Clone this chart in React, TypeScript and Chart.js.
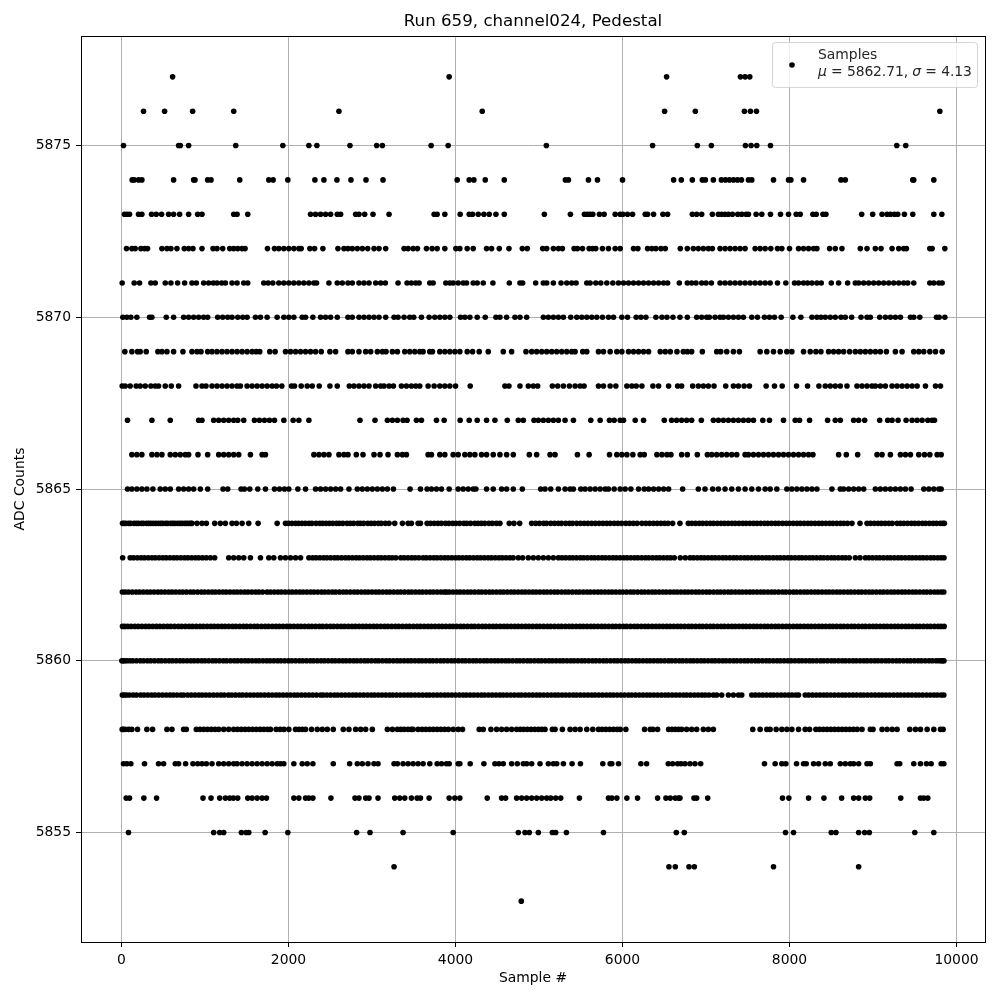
import React, { useEffect, useRef } from "react";
import { Chart, registerables } from "chart.js";

Chart.register(...registerables);

const titleText = "Run 659, channel024, Pedestal";
const xLabel = "Sample #";
const yLabel = "ADC Counts";
const seriesName = "Samples";
const statMean = "5862.71";
const statSigma = "4.13";
const xTicks = [0, 2000, 4000, 6000, 8000, 10000];
const yTicks = [5855, 5860, 5865, 5870, 5875];

const s5853 = [4788];
const s5854 = [3264, 6556, 6632, 6796, 6860, 7808, 8828];
const s5855 = [84, 1104, 1176, 1224, 1436, 1492, 1524, 1720, 1992, 2816, 2976, 3372, 3972, 4752, 4832, 4884, 4992, 5160, 5200, 5328, 5772, 6644, 6740, 7952, 8048, 8500, 8556, 8828, 8900, 8956, 9500, 9728];
const s5856 = [56, 96, 268, 420, 976, 1072, 1176, 1244, 1296, 1340, 1392, 1512, 1564, 1624, 1684, 1736, 2064, 2124, 2204, 2244, 2292, 2508, 2796, 2844, 2924, 2964, 3072, 3272, 3332, 3392, 3472, 3540, 3580, 3684, 3924, 3992, 4052, 4380, 4552, 4600, 4732, 4792, 4852, 4912, 4972, 5032, 5092, 5140, 5200, 5260, 5484, 5832, 5872, 5932, 6052, 6180, 6420, 6520, 6572, 6632, 6672, 6688, 6856, 6888, 7020, 7916, 7992, 8228, 8412, 8624, 8768, 8828, 8908, 8960, 9332, 9568, 9608, 9656];
const s5857 = [24, 64, 112, 276, 444, 504, 644, 684, 768, 856, 912, 964, 1016, 1084, 1164, 1224, 1284, 1344, 1384, 1444, 1504, 1564, 1624, 1684, 1744, 1804, 1864, 1904, 1944, 2064, 2164, 2224, 2292, 2536, 2732, 2824, 2884, 2952, 3024, 3072, 3264, 3304, 3372, 3432, 3492, 3552, 3612, 3692, 3780, 3832, 3892, 3924, 4032, 4052, 4176, 4340, 4472, 4520, 4572, 4672, 4740, 4812, 4852, 4912, 5012, 5112, 5172, 5212, 5292, 5396, 5496, 5764, 5852, 5872, 5952, 6220, 6288, 6548, 6600, 6660, 6700, 6748, 6808, 6868, 6936, 7700, 7828, 7908, 7956, 8084, 8168, 8200, 8288, 8348, 8428, 8488, 8608, 8668, 8728, 8768, 8828, 8928, 8968, 9288, 9320, 9488, 9568, 9640, 9696, 9816, 9848];
const s5858 = [8, 20, 44, 84, 124, 192, 304, 372, 544, 604, 744, 776, 896, 940, 985, 1030, 1075, 1120, 1164, 1224, 1284, 1344, 1390, 1435, 1480, 1525, 1570, 1615, 1660, 1705, 1750, 1784, 1852, 1900, 1945, 2004, 2084, 2125, 2165, 2204, 2276, 2344, 2404, 2464, 2536, 2656, 2724, 2804, 2864, 2924, 3004, 3184, 3244, 3304, 3345, 3385, 3430, 3470, 3492, 3552, 3600, 3645, 3690, 3735, 3780, 3825, 3870, 3915, 3972, 4032, 4084, 4284, 4332, 4424, 4492, 4552, 4612, 4672, 4732, 4775, 4815, 4860, 4905, 4950, 4995, 5035, 5072, 5160, 5192, 5280, 5372, 5432, 5492, 5572, 5644, 5712, 5755, 5800, 5845, 5890, 5935, 5972, 6040, 6264, 6332, 6364, 6420, 6552, 6592, 6632, 6672, 6708, 6768, 6828, 6888, 6968, 7028, 7088, 7560, 7648, 7728, 7768, 7840, 7908, 7968, 8028, 8108, 8188, 8240, 8316, 8360, 8405, 8450, 8495, 8540, 8585, 8630, 8675, 8720, 8765, 8810, 8868, 8968, 9000, 9108, 9168, 9230, 9288, 9440, 9508, 9568, 9648, 9728, 9808, 9840];
const s5859 = [10, 32, 58, 95, 140, 180, 230, 270, 315, 360, 400, 445, 490, 535, 580, 620, 665, 710, 744, 792, 835, 880, 925, 965, 1010, 1055, 1100, 1145, 1190, 1230, 1280, 1320, 1365, 1410, 1450, 1495, 1540, 1585, 1630, 1670, 1715, 1760, 1805, 1850, 1890, 1935, 1980, 2025, 2070, 2110, 2155, 2200, 2245, 2290, 2335, 2384, 2416, 2460, 2505, 2550, 2590, 2635, 2680, 2725, 2770, 2810, 2855, 2900, 2945, 2990, 3030, 3075, 3120, 3165, 3210, 3250, 3295, 3340, 3385, 3430, 3470, 3515, 3560, 3605, 3650, 3690, 3735, 3780, 3825, 3870, 3910, 3955, 4000, 4045, 4090, 4130, 4175, 4220, 4265, 4310, 4350, 4395, 4440, 4485, 4530, 4570, 4615, 4660, 4705, 4750, 4790, 4835, 4880, 4925, 4970, 5010, 5055, 5100, 5145, 5190, 5230, 5275, 5320, 5365, 5410, 5450, 5495, 5540, 5585, 5630, 5670, 5715, 5760, 5805, 5850, 5890, 5935, 5980, 6025, 6070, 6110, 6155, 6200, 6245, 6290, 6330, 6375, 6420, 6465, 6510, 6550, 6595, 6640, 6685, 6730, 6770, 6815, 6860, 6905, 6950, 6990, 7035, 7088, 7128, 7188, 7268, 7328, 7388, 7428, 7548, 7590, 7635, 7680, 7725, 7770, 7810, 7855, 7900, 7945, 7990, 8030, 8075, 8108, 8188, 8230, 8275, 8320, 8365, 8410, 8450, 8495, 8540, 8585, 8630, 8670, 8715, 8760, 8805, 8850, 8890, 8935, 8980, 9025, 9070, 9110, 9155, 9200, 9245, 9290, 9330, 9375, 9420, 9465, 9510, 9550, 9595, 9640, 9685, 9730, 9770, 9815, 9848];
const s5860 = [4, 18, 36, 65, 100, 135, 180, 225, 265, 310, 350, 395, 440, 480, 525, 570, 610, 655, 700, 740, 785, 830, 870, 915, 960, 1000, 1045, 1090, 1130, 1175, 1220, 1260, 1305, 1350, 1390, 1435, 1480, 1520, 1565, 1610, 1650, 1695, 1740, 1780, 1825, 1870, 1910, 1955, 2000, 2040, 2085, 2130, 2170, 2215, 2260, 2300, 2345, 2390, 2430, 2475, 2520, 2560, 2605, 2650, 2690, 2735, 2780, 2820, 2865, 2910, 2950, 2995, 3040, 3080, 3125, 3170, 3210, 3255, 3300, 3340, 3385, 3430, 3470, 3515, 3560, 3600, 3645, 3690, 3730, 3775, 3820, 3860, 3905, 3950, 3990, 4035, 4080, 4120, 4165, 4210, 4250, 4295, 4340, 4380, 4425, 4470, 4510, 4555, 4600, 4640, 4685, 4730, 4770, 4815, 4860, 4900, 4945, 4990, 5030, 5075, 5120, 5160, 5205, 5250, 5290, 5335, 5380, 5420, 5465, 5510, 5550, 5595, 5640, 5680, 5725, 5770, 5810, 5855, 5900, 5940, 5985, 6030, 6070, 6115, 6160, 6200, 6245, 6290, 6330, 6375, 6420, 6460, 6505, 6550, 6590, 6635, 6680, 6720, 6765, 6810, 6850, 6895, 6940, 6980, 7025, 7070, 7110, 7155, 7200, 7240, 7285, 7330, 7370, 7415, 7460, 7500, 7545, 7590, 7630, 7675, 7720, 7760, 7805, 7850, 7890, 7935, 7980, 8020, 8065, 8110, 8150, 8195, 8240, 8280, 8325, 8370, 8410, 8455, 8500, 8540, 8585, 8630, 8670, 8715, 8760, 8800, 8845, 8890, 8930, 8975, 9020, 9060, 9105, 9150, 9190, 9235, 9280, 9320, 9365, 9410, 9450, 9495, 9540, 9580, 9625, 9670, 9710, 9755, 9790, 9820, 9835, 9850];
const s5861 = [12, 40, 75, 115, 160, 200, 245, 290, 330, 375, 420, 460, 505, 550, 590, 635, 680, 720, 765, 810, 850, 895, 940, 980, 1025, 1070, 1110, 1155, 1200, 1240, 1285, 1330, 1370, 1415, 1460, 1500, 1545, 1590, 1630, 1675, 1720, 1760, 1805, 1850, 1890, 1935, 1980, 2020, 2065, 2110, 2150, 2195, 2240, 2280, 2325, 2370, 2410, 2455, 2500, 2540, 2585, 2630, 2670, 2715, 2760, 2800, 2845, 2890, 2930, 2975, 3020, 3060, 3105, 3150, 3190, 3235, 3280, 3320, 3365, 3410, 3450, 3495, 3540, 3580, 3625, 3670, 3710, 3755, 3800, 3840, 3885, 3930, 3970, 4015, 4060, 4100, 4145, 4190, 4230, 4275, 4320, 4360, 4405, 4450, 4490, 4535, 4580, 4620, 4665, 4710, 4750, 4795, 4840, 4880, 4925, 4970, 5010, 5055, 5100, 5140, 5185, 5230, 5270, 5315, 5360, 5400, 5445, 5490, 5530, 5575, 5620, 5660, 5705, 5750, 5790, 5835, 5880, 5920, 5965, 6010, 6050, 6095, 6140, 6180, 6225, 6270, 6310, 6355, 6400, 6440, 6485, 6530, 6570, 6615, 6660, 6700, 6745, 6790, 6830, 6875, 6920, 6960, 7005, 7050, 7090, 7135, 7180, 7220, 7265, 7310, 7350, 7395, 7440, 7480, 7525, 7570, 7610, 7655, 7700, 7740, 7785, 7830, 7870, 7915, 7960, 8000, 8045, 8090, 8130, 8175, 8220, 8260, 8305, 8350, 8390, 8435, 8480, 8520, 8565, 8610, 8650, 8695, 8740, 8780, 8825, 8870, 8910, 8955, 9000, 9040, 9085, 9130, 9170, 9215, 9260, 9300, 9345, 9390, 9430, 9475, 9520, 9560, 9605, 9650, 9690, 9735, 9780, 9815, 9852];
const s5862 = [10, 45, 85, 130, 175, 215, 260, 305, 345, 390, 435, 475, 520, 565, 605, 650, 695, 735, 780, 825, 865, 910, 955, 995, 1040, 1085, 1125, 1170, 1215, 1255, 1300, 1345, 1385, 1430, 1475, 1515, 1560, 1605, 1645, 1690, 1744, 1785, 1830, 1875, 1915, 1960, 2005, 2045, 2090, 2135, 2175, 2220, 2265, 2305, 2350, 2395, 2435, 2480, 2525, 2565, 2610, 2655, 2695, 2740, 2785, 2825, 2870, 2915, 2955, 3000, 3045, 3085, 3130, 3175, 3215, 3260, 3305, 3345, 3390, 3435, 3475, 3520, 3565, 3605, 3650, 3695, 3735, 3780, 3825, 3865, 3892, 3925, 3970, 4015, 4055, 4100, 4145, 4185, 4230, 4275, 4315, 4360, 4405, 4445, 4490, 4535, 4575, 4620, 4665, 4705, 4750, 4795, 4835, 4880, 4925, 4965, 5010, 5055, 5095, 5140, 5185, 5225, 5270, 5315, 5355, 5400, 5445, 5485, 5530, 5575, 5615, 5660, 5705, 5745, 5790, 5835, 5875, 5920, 5965, 6005, 6050, 6095, 6135, 6180, 6225, 6265, 6310, 6355, 6395, 6440, 6485, 6525, 6570, 6615, 6655, 6700, 6745, 6785, 6830, 6875, 6915, 6960, 7005, 7045, 7090, 7135, 7175, 7220, 7265, 7305, 7350, 7395, 7435, 7480, 7525, 7565, 7610, 7655, 7695, 7740, 7785, 7825, 7870, 7915, 7955, 8000, 8045, 8085, 8130, 8175, 8215, 8260, 8305, 8345, 8390, 8435, 8475, 8520, 8565, 8605, 8650, 8695, 8735, 8780, 8825, 8865, 8910, 8955, 8995, 9040, 9085, 9125, 9170, 9215, 9255, 9300, 9345, 9385, 9430, 9475, 9515, 9560, 9605, 9645, 9690, 9735, 9775, 9815, 9848];
const s5863 = [14, 104, 145, 190, 235, 275, 320, 365, 405, 450, 495, 535, 580, 625, 665, 710, 755, 795, 840, 885, 925, 970, 1015, 1064, 1116, 1284, 1344, 1404, 1464, 1544, 1664, 1764, 1824, 1904, 1964, 2024, 2084, 2144, 2244, 2290, 2330, 2375, 2420, 2460, 2505, 2550, 2590, 2635, 2680, 2720, 2765, 2810, 2850, 2895, 2940, 2980, 3025, 3070, 3110, 3155, 3200, 3240, 3285, 3344, 3385, 3430, 3475, 3515, 3560, 3612, 3650, 3695, 3740, 3780, 3825, 3870, 3910, 3955, 4000, 4040, 4085, 4130, 4170, 4215, 4260, 4300, 4345, 4390, 4430, 4475, 4520, 4560, 4605, 4650, 4690, 4752, 4804, 4872, 4932, 4992, 5052, 5112, 5172, 5232, 5275, 5320, 5365, 5405, 5450, 5495, 5535, 5580, 5625, 5665, 5710, 5755, 5795, 5840, 5885, 5925, 5970, 6015, 6055, 6100, 6145, 6185, 6230, 6275, 6315, 6360, 6405, 6445, 6490, 6535, 6575, 6620, 6692, 6752, 6808, 6850, 6895, 6940, 6980, 7025, 7070, 7110, 7155, 7200, 7240, 7285, 7330, 7370, 7415, 7460, 7500, 7545, 7590, 7630, 7675, 7720, 7760, 7805, 7850, 7890, 7935, 7980, 8020, 8065, 8110, 8150, 8195, 8240, 8280, 8325, 8370, 8410, 8455, 8500, 8540, 8585, 8630, 8670, 8715, 8788, 8844, 8908, 8950, 8995, 9040, 9080, 9125, 9170, 9210, 9255, 9300, 9340, 9385, 9430, 9470, 9515, 9560, 9600, 9645, 9690, 9730, 9775, 9815, 9850];
const s5864 = [12, 30, 52, 85, 110, 150, 178, 205, 240, 262, 300, 325, 350, 380, 410, 440, 470, 495, 530, 555, 590, 615, 640, 672, 700, 725, 755, 780, 805, 830, 844, 904, 964, 1016, 1116, 1184, 1244, 1324, 1376, 1444, 1524, 1636, 1864, 1964, 2000, 2040, 2084, 2120, 2160, 2200, 2245, 2280, 2330, 2375, 2410, 2450, 2490, 2530, 2575, 2610, 2650, 2700, 2740, 2780, 2830, 2860, 2900, 2950, 2990, 3030, 3075, 3110, 3160, 3204, 3272, 3364, 3432, 3472, 3552, 3580, 3660, 3700, 3745, 3790, 3830, 3880, 3920, 3965, 4005, 4050, 4100, 4135, 4180, 4230, 4270, 4310, 4350, 4400, 4440, 4490, 4532, 4644, 4700, 4768, 4912, 4960, 5005, 5055, 5090, 5140, 5185, 5230, 5270, 5320, 5365, 5400, 5450, 5495, 5540, 5585, 5630, 5675, 5720, 5765, 5810, 5852, 5900, 5945, 5990, 6040, 6085, 6130, 6175, 6232, 6280, 6325, 6370, 6415, 6460, 6505, 6545, 6600, 6688, 6788, 6830, 6875, 6920, 6960, 7005, 7050, 7090, 7135, 7180, 7220, 7265, 7310, 7350, 7395, 7440, 7480, 7525, 7570, 7610, 7655, 7700, 7740, 7785, 7830, 7870, 7915, 7960, 8000, 8045, 8090, 8130, 8175, 8220, 8260, 8305, 8350, 8390, 8435, 8480, 8520, 8565, 8610, 8650, 8695, 8748, 8844, 8928, 8970, 9015, 9060, 9100, 9145, 9190, 9230, 9288, 9328, 9370, 9415, 9460, 9500, 9545, 9590, 9630, 9675, 9720, 9760, 9805, 9835, 9855];
const s5865 = [72, 124, 184, 244, 304, 376, 464, 524, 584, 684, 744, 804, 864, 944, 1032, 1216, 1272, 1432, 1472, 1536, 1632, 1724, 1832, 1892, 1952, 2004, 2112, 2204, 2324, 2384, 2444, 2504, 2564, 2624, 2724, 2824, 2884, 2944, 3004, 3064, 3124, 3184, 3256, 3456, 3580, 3660, 3712, 3772, 3832, 3924, 4032, 4092, 4152, 4212, 4244, 4372, 4452, 4552, 4612, 4692, 4800, 5020, 5072, 5140, 5232, 5312, 5372, 5412, 5500, 5552, 5612, 5672, 5732, 5792, 5832, 5900, 5972, 6032, 6100, 6192, 6260, 6312, 6372, 6432, 6492, 6552, 6720, 6908, 6988, 7080, 7148, 7228, 7308, 7388, 7468, 7548, 7628, 7708, 7768, 7848, 7968, 8028, 8088, 8148, 8208, 8268, 8328, 8508, 8608, 8648, 8708, 8768, 8828, 8888, 9028, 9088, 9148, 9208, 9268, 9328, 9388, 9456, 9608, 9668, 9728, 9788, 9816];
const s5866 = [124, 184, 244, 364, 424, 484, 584, 644, 704, 764, 804, 916, 1032, 1164, 1224, 1284, 1344, 1404, 1544, 1684, 1724, 2304, 2364, 2424, 2484, 2604, 2664, 2712, 2812, 2892, 3024, 3096, 3192, 3304, 3364, 3412, 3672, 3712, 3812, 3872, 3972, 4032, 4112, 4172, 4232, 4312, 4372, 4452, 4532, 4612, 4692, 4884, 4972, 5132, 5192, 5460, 5600, 5844, 5932, 5992, 6052, 6124, 6212, 6260, 6412, 6472, 6532, 6580, 6708, 6776, 6896, 7016, 7068, 7128, 7188, 7248, 7308, 7368, 7468, 7508, 7568, 7628, 7688, 7748, 7808, 7868, 7928, 7988, 8048, 8108, 8168, 8228, 8280, 8588, 8680, 8816, 9048, 9108, 9208, 9328, 9388, 9448, 9548, 9616, 9680, 9768, 9816];
const s5867 = [72, 364, 584, 924, 964, 1104, 1164, 1224, 1284, 1344, 1392, 1464, 1592, 1652, 1712, 1772, 1832, 1944, 2056, 2124, 2244, 2856, 3036, 3184, 3244, 3304, 3372, 3420, 3532, 3592, 3772, 3864, 4056, 4164, 4260, 4372, 4472, 4620, 4752, 4812, 4940, 4992, 5052, 5112, 5172, 5232, 5312, 5412, 5620, 5732, 5844, 5900, 5972, 6012, 6152, 6252, 6500, 6588, 6648, 6708, 6768, 6828, 6944, 7088, 7148, 7208, 7268, 7328, 7388, 7448, 7508, 7568, 7680, 7760, 7928, 8068, 8120, 8240, 8456, 8548, 8608, 8768, 8828, 8900, 9080, 9176, 9228, 9300, 9396, 9468, 9528, 9588, 9656, 9708, 9736];
const s5868 = [8, 44, 104, 176, 224, 284, 352, 404, 444, 524, 596, 684, 892, 964, 1012, 1084, 1144, 1204, 1264, 1324, 1384, 1424, 1504, 1564, 1624, 1684, 1744, 1804, 1856, 1920, 2036, 2072, 2152, 2224, 2284, 2368, 2496, 2584, 2728, 2784, 2844, 2904, 2964, 3044, 3104, 3144, 3204, 3256, 3352, 3412, 3472, 3524, 3572, 3672, 3744, 3812, 3872, 3932, 4000, 4176, 4592, 4640, 4772, 4872, 4932, 4984, 5160, 5224, 5292, 5364, 5432, 5492, 5540, 5712, 5772, 5852, 5920, 6052, 6112, 6164, 6232, 6364, 6432, 6552, 6660, 6708, 6840, 6908, 6968, 7028, 7096, 7236, 7328, 7388, 7456, 7520, 7720, 7820, 7912, 8084, 8216, 8352, 8428, 8488, 8548, 8608, 8688, 8808, 8868, 8928, 8988, 9028, 9088, 9148, 9228, 9288, 9348, 9408, 9468, 9528, 9628, 9748, 9808];
const s5869 = [40, 124, 192, 224, 296, 436, 484, 544, 624, 736, 844, 904, 952, 1032, 1084, 1144, 1204, 1264, 1324, 1384, 1444, 1504, 1564, 1612, 1656, 1776, 1840, 1964, 2024, 2084, 2144, 2204, 2264, 2324, 2392, 2496, 2564, 2712, 2764, 2844, 2924, 2984, 3064, 3124, 3168, 3244, 3304, 3392, 3452, 3512, 3572, 3612, 3692, 3724, 3812, 3872, 3932, 3992, 4052, 4140, 4204, 4284, 4392, 4572, 4672, 4844, 4912, 4972, 5032, 5092, 5152, 5212, 5272, 5332, 5392, 5432, 5524, 5572, 5712, 5772, 5852, 5932, 5992, 6072, 6132, 6192, 6252, 6312, 6452, 6512, 6572, 6652, 6728, 6776, 6828, 6956, 7128, 7176, 7248, 7328, 7400, 7648, 7728, 7808, 7888, 7968, 8028, 8168, 8248, 8316, 8376, 8468, 8528, 8588, 8648, 8720, 8788, 8848, 8908, 8968, 9028, 9088, 9160, 9268, 9348, 9488, 9548, 9608, 9680, 9748, 9828];
const s5870 = [16, 64, 112, 184, 336, 364, 536, 624, 744, 804, 864, 924, 984, 1032, 1152, 1212, 1272, 1324, 1392, 1452, 1504, 1604, 1664, 1744, 1864, 1944, 2004, 2064, 2164, 2204, 2292, 2384, 2444, 2504, 2584, 2712, 2764, 2844, 2904, 2964, 3024, 3084, 3164, 3264, 3312, 3384, 3452, 3500, 3592, 3684, 3752, 3812, 3872, 3932, 4060, 4112, 4172, 4260, 4356, 4484, 4532, 4612, 4712, 4772, 4852, 5052, 5112, 5172, 5232, 5292, 5380, 5452, 5512, 5572, 5632, 5692, 5760, 5832, 5892, 5992, 6060, 6164, 6220, 6280, 6400, 6472, 6532, 6604, 6688, 6776, 6888, 6948, 7008, 7040, 7108, 7168, 7208, 7268, 7328, 7388, 7448, 7548, 7616, 7700, 7760, 7820, 7900, 8040, 8136, 8268, 8328, 8376, 8428, 8488, 8548, 8616, 8668, 8744, 8856, 8928, 8968, 9080, 9148, 9208, 9268, 9328, 9448, 9488, 9560, 9760, 9792, 9860];
const s5871 = [8, 152, 216, 352, 404, 524, 592, 672, 756, 844, 896, 984, 1044, 1100, 1144, 1200, 1244, 1324, 1384, 1464, 1512, 1704, 1756, 1812, 1884, 1944, 2004, 2064, 2124, 2184, 2244, 2304, 2336, 2484, 2584, 2644, 2712, 2764, 2844, 2904, 2964, 3044, 3104, 3160, 3312, 3420, 3472, 3524, 3564, 3692, 3732, 3884, 3932, 3972, 4032, 4092, 4132, 4212, 4260, 4332, 4448, 4644, 4772, 4804, 4960, 5052, 5092, 5172, 5264, 5332, 5392, 5444, 5572, 5612, 5680, 5740, 5812, 5884, 5952, 6012, 6072, 6132, 6192, 6252, 6312, 6372, 6432, 6492, 6540, 6680, 6776, 6828, 6880, 6948, 7000, 7064, 7168, 7228, 7288, 7348, 7408, 7468, 7528, 7588, 7648, 7708, 7768, 7856, 7956, 8060, 8108, 8168, 8216, 8268, 8328, 8380, 8500, 8588, 8696, 8788, 8828, 8888, 8948, 9008, 9068, 9128, 9188, 9248, 9308, 9368, 9416, 9488, 9680, 9728, 9788, 9828];
const s5872 = [60, 124, 164, 232, 276, 312, 484, 544, 592, 664, 752, 804, 856, 964, 1096, 1144, 1212, 1296, 1344, 1392, 1444, 1480, 1748, 1832, 1884, 1944, 2004, 2064, 2124, 2152, 2256, 2312, 2412, 2592, 2664, 2712, 2764, 2824, 2884, 2948, 3024, 3084, 3164, 3384, 3432, 3492, 3544, 3652, 3720, 3780, 3872, 4004, 4052, 4140, 4212, 4372, 4432, 4524, 4640, 4800, 4860, 5044, 5092, 5172, 5232, 5280, 5420, 5460, 5520, 5600, 5640, 5680, 5760, 5832, 5912, 5972, 6132, 6184, 6300, 6352, 6400, 6460, 6512, 6692, 6776, 6848, 6908, 6968, 7028, 7076, 7168, 7228, 7288, 7348, 7408, 7468, 7588, 7648, 7708, 7776, 7856, 7908, 8000, 8108, 8168, 8228, 8288, 8328, 8480, 8548, 8628, 8848, 8928, 9028, 9096, 9228, 9308, 9368, 9400, 9680, 9708, 9860];
const s5873 = [36, 66, 96, 204, 244, 360, 416, 480, 564, 624, 696, 804, 912, 964, 1344, 1384, 1512, 2264, 2324, 2384, 2444, 2504, 2584, 2624, 2804, 2844, 2912, 3012, 3204, 3744, 3780, 3872, 4056, 4164, 4204, 4272, 4340, 4404, 4484, 4584, 5064, 5376, 5544, 5580, 5612, 5644, 5724, 5780, 5912, 5972, 6004, 6060, 6120, 6272, 6300, 6372, 6484, 6540, 6836, 6888, 6948, 7076, 7148, 7188, 7228, 7268, 7316, 7380, 7428, 7480, 7508, 7600, 7668, 7772, 7892, 7988, 8080, 8128, 8280, 8320, 8400, 8436, 8864, 8996, 9108, 9168, 9208, 9256, 9296, 9376, 9476, 9728, 9824];
const s5874 = [128, 152, 204, 244, 624, 864, 880, 1032, 1072, 1416, 1764, 1816, 1992, 2316, 2424, 2580, 2748, 2928, 3132, 4020, 4164, 4220, 4356, 4584, 5316, 5352, 5592, 5700, 6000, 6612, 6704, 6836, 6956, 6992, 7088, 7184, 7232, 7280, 7328, 7376, 7424, 7508, 7548, 7808, 7988, 8016, 8168, 8616, 8668, 9476, 9488, 9728];
const s5875 = [24, 684, 704, 804, 1368, 1932, 2244, 2340, 2736, 3056, 3124, 3708, 3912, 5088, 6360, 6896, 7064, 7472, 7540, 7608, 7772, 9284, 9392];
const s5876 = [264, 516, 852, 1344, 2604, 4320, 6504, 6872, 7460, 7532, 7604, 9800];
const s5877 = [612, 3924, 6528, 7412, 7468, 7524];

const levels: [number, number[]][] = [
  [5853, s5853], [5854, s5854], [5855, s5855], [5856, s5856], [5857, s5857], [5858, s5858],
  [5859, s5859], [5860, s5860], [5861, s5861], [5862, s5862], [5863, s5863], [5864, s5864],
  [5865, s5865], [5866, s5866], [5867, s5867], [5868, s5868], [5869, s5869], [5870, s5870],
  [5871, s5871], [5872, s5872], [5873, s5873], [5874, s5874], [5875, s5875], [5876, s5876], [5877, s5877],
];

const FONT = '"DejaVu Sans", sans-serif';

const framePlugin = {
  id: "frameAndLegend",
  afterDraw(chart: any) {
    const { ctx, chartArea: a } = chart;
    ctx.save();
    ctx.strokeStyle = "#000";
    ctx.lineWidth = 1;
    ctx.strokeRect(Math.floor(a.left) + 0.5, Math.floor(a.top) + 0.5, a.right - a.left, a.bottom - a.top);

    const bx = 772.5, by = 42.5, bw = 205, bh = 45, r = 3;
    ctx.beginPath();
    ctx.roundRect(bx, by, bw, bh, r);
    ctx.fillStyle = "rgba(255,255,255,0.8)";
    ctx.fill();
    ctx.strokeStyle = "rgba(204,204,204,0.8)";
    ctx.stroke();

    ctx.fillStyle = "#000";
    ctx.beginPath();
    ctx.arc(792, 65, 2.8, 0, Math.PI * 2);
    ctx.fill();

    ctx.fillStyle = "#262626";
    ctx.textBaseline = "alphabetic";
    ctx.textAlign = "left";
    ctx.font = `13.9px ${FONT}`;
    ctx.fillText(seriesName, 818, 59);
    const parts: [string, boolean][] = [
      ["μ", true], [` = ${statMean}, `, false], ["σ", true], [` = ${statSigma}`, false],
    ];
    ctx.letterSpacing = "-0.1px";
    let x = 818;
    for (const [t, it] of parts) {
      ctx.font = `${it ? "italic " : ""}13.9px ${FONT}`;
      ctx.fillText(t, x, 76);
      x += ctx.measureText(t).width;
    }
    ctx.restore();
  },
};

export default function App() {
  const ref = useRef<HTMLCanvasElement>(null);
  useEffect(() => {
    const points = levels.flatMap(([y, xs]) => xs.map((x) => ({ x, y })));
    const chart = new Chart(ref.current!, {
      type: "scatter",
      data: {
        datasets: [{
          label: seriesName,
          data: points,
          backgroundColor: "#000",
          borderWidth: 0,
          pointRadius: 2.8,
        }],
      },
      plugins: [framePlugin],
      options: {
        animation: false,
        responsive: false,
        layout: { padding: { left: 0, right: 15, top: 0, bottom: 0 } },
        plugins: {
          legend: { display: false },
          tooltip: { enabled: false },
          title: {
            display: true,
            text: titleText,
            fullSize: false,
            color: "#000",
            font: { family: FONT, size: 16.67, weight: "normal", lineHeight: 1.2 },
            padding: { top: 12, bottom: 4 },
          },
        },
        scales: {
          x: {
            type: "linear",
            min: -485,
            max: 10341,
            afterBuildTicks: (s: any) => { s.ticks = xTicks.map((value) => ({ value })); },
            afterFit: (s: any) => { s.height = 58; },
            grid: { color: "#b0b0b0", lineWidth: 1, tickColor: "#000", tickLength: 5 },
            border: { color: "#000", width: 1 },
            ticks: {
              color: "#000",
              padding: 5,
              maxRotation: 0,
              font: { family: FONT, size: 13.9 },
              callback: (v: any) => String(v),
            },
            title: {
              display: true,
              text: xLabel,
              color: "#000",
              font: { family: FONT, size: 13.9 },
              padding: { top: 6, bottom: 13 },
            },
          },
          y: {
            type: "linear",
            min: 5851.81,
            max: 5878.19,
            afterBuildTicks: (s: any) => { s.ticks = yTicks.map((value) => ({ value })); },
            afterFit: (s: any) => { s.width = 81; },
            grid: { color: "#b0b0b0", lineWidth: 1, tickColor: "#000", tickLength: 5 },
            border: { color: "#000", width: 1 },
            ticks: {
              color: "#000",
              padding: 5,
              font: { family: FONT, size: 13.9 },
              callback: (v: any) => String(v),
            },
            title: {
              display: true,
              text: yLabel,
              color: "#000",
              font: { family: FONT, size: 13.9 },
              padding: { top: 12, bottom: 0 },
            },
          },
        },
      },
    } as any);
    return () => chart.destroy();
  }, []);
  return (
    <div style={{ position: "absolute", left: 0, top: 0, width: 1000, height: 1000 }}>
      <canvas ref={ref} width={1000} height={1000} style={{ display: "block" }} />
    </div>
  );
}
